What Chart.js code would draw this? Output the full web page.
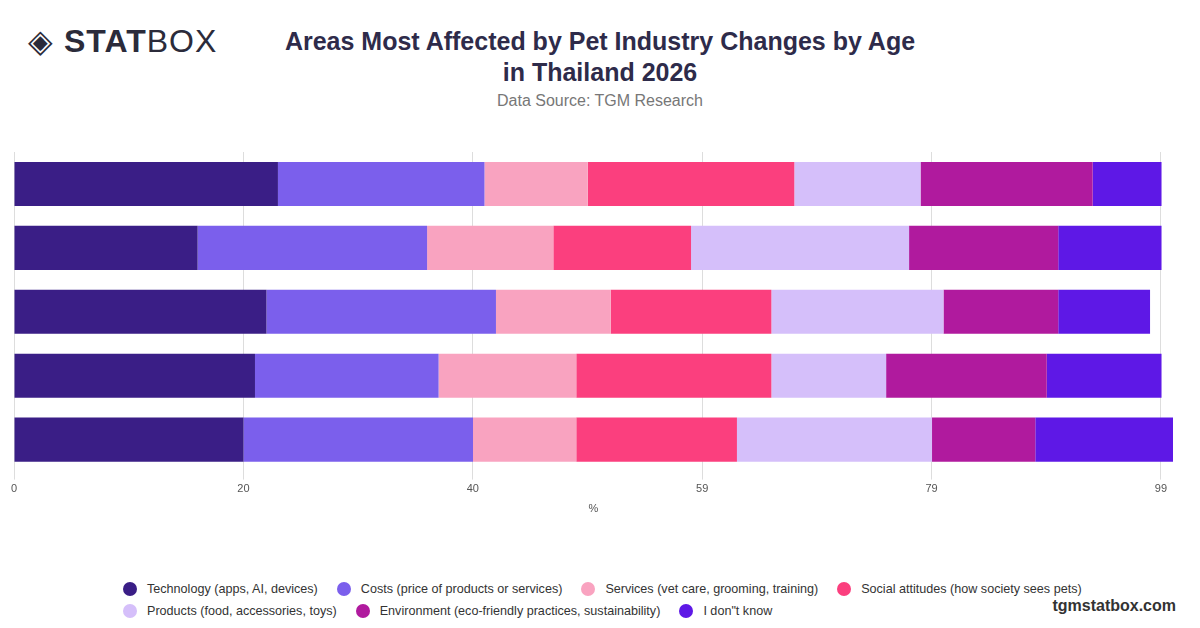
<!DOCTYPE html>
<html><head><meta charset="utf-8">
<script src="https://cdn.jsdelivr.net/npm/chart.js@4"></script>
<style>
body{margin:0;width:1200px;height:628px;background:#fff;font-family:"Liberation Sans",Arial,sans-serif;position:relative;overflow:hidden}
#logo{position:absolute;left:28px;top:22px;font-size:32px;color:#2b2b3a;letter-spacing:1px}
#logo b{font-weight:900}
#title{position:absolute;left:0;width:1200px;top:26px;text-align:center;font-size:25px;font-weight:700;color:#2e2b4a;line-height:31px}
#src{position:absolute;left:0;width:1200px;top:92px;text-align:center;font-size:16px;color:#777}
#wrap{position:absolute;left:0;top:140px;width:1200px;height:380px}
#legend{position:absolute;left:123px;top:578px;font-size:12.6px;color:#333;width:980px}
#legend span{display:inline-flex;align-items:center;margin-right:19px;height:22px;white-space:nowrap}
#legend i{width:14px;height:14px;border-radius:50%;display:inline-block;margin-right:10px}
#site{position:absolute;right:24px;top:597px;font-size:16px;font-weight:700;color:#333}
</style></head><body>
<div id="logo">◈ <b>STAT</b>BOX</div>
<div id="title">Areas Most Affected by Pet Industry Changes by Age<br>in Thailand 2026</div>
<div id="src">Data Source: TGM Research</div>
<div id="wrap"><canvas id="c"></canvas></div>
<div id="legend"></div>
<div id="site">tgmstatbox.com</div>
<script>
const ages = ["18-24","25-34","35-44","45-54","55+"];
const seriesNames = ["Technology (apps, AI, devices)","Costs (price of products or services)","Services (vet care, grooming, training)","Social attitudes (how society sees pets)","Products (food, accessories, toys)","Environment (eco-friendly practices, sustainability)","I don\"t know"];
const colors = ["#3a1e86","#7b5fec","#f9a3c0","#fb3f7e","#d5bffa","#b01a9e","#5e18e6"];
const technology = [23,16,22,21,20];
const costs = [18,20,20,16,20];
const services = [9,11,10,12,9];
const social = [18,12,14,17,14];
const products = [11,19,15,10,17];
const environment = [15,13,10,14,9];
const dontKnow = [6,9,8,10,12];
const tickValues = [0,19.99,39.98,59.97,79.96,99.95];
const tickLabels = ["0","20","40","59","79","99"];

const all = [technology,costs,services,social,products,environment,dontKnow];
const datasets = all.map((d,i)=>({label:seriesNames[i],data:d,backgroundColor:colors[i],borderWidth:0}));

document.getElementById("legend").innerHTML = seriesNames.map((n,i)=>
`<span><i style="background:${colors[i]}"></i>${n}</span>`).join("");

new Chart(document.getElementById("c"),{
type:"bar",
data:{labels:ages,datasets:datasets},
options:{
indexAxis:"y",
responsive:true,
maintainAspectRatio:false,
animation:false,
layout:{padding:{left:6,right:27,top:12,bottom:0}},
datasets:{bar:{categoryPercentage:0.69,barPercentage:1}},
plugins:{legend:{display:false},tooltip:{enabled:false}},
scales:{
x:{stacked:true,min:0,max:101,
afterBuildTicks:s=>{s.ticks=tickValues.map(v=>({value:v}));},
ticks:{callback:(v,i)=>tickLabels[i],color:"#555",font:{size:11}},
grid:{color:"#ddd",drawTicks:true},border:{display:false},
title:{display:true,text:"%",color:"#555",font:{size:11}}},
y:{stacked:true,ticks:{display:false},grid:{display:false},border:{display:false}}
}
}
});
</script>
</body></html>
